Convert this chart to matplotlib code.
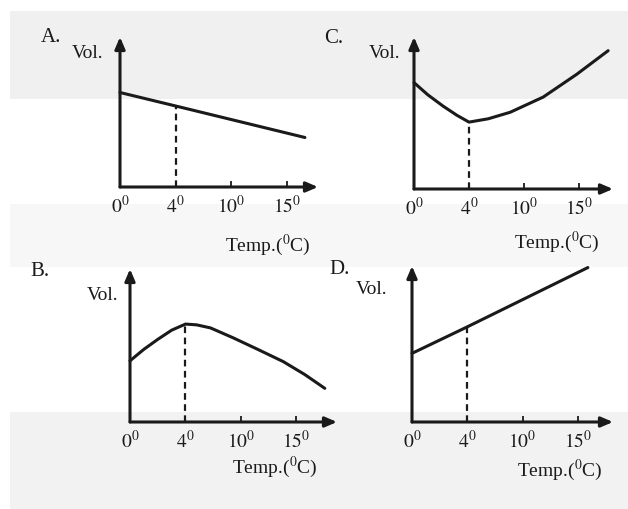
import matplotlib.pyplot as plt

plt.rcParams['font.family'] = 'Liberation Serif'
plt.rcParams['mathtext.fontset'] = 'stix'

# temperature ticks (evenly spaced on the axis, as in the figure)
temps = [0, 4, 10, 15]
tick_labels = [r'$0^{0}$', r'$4^{0}$', r'$10^{0}$', r'$15^{0}$']

# curves: x in tick-index units along the temperature axis, volume in relative units (0-10)
a_x = [0, 1, 3.32]
a_vol = [6.3, 5.4, 3.3]

b_x = [0, 0.25, 0.5, 0.75, 1, 1.2, 1.45, 1.86, 2.3, 2.76, 3.15, 3.51]
b_vol = [4.0, 4.75, 5.4, 6.0, 6.4, 6.35, 6.15, 5.5, 4.75, 3.95, 3.1, 2.2]

c_x = [0, 0.25, 0.53, 0.78, 1, 1.35, 1.75, 2.35, 2.96, 3.53]
c_vol = [7.0, 6.2, 5.45, 4.85, 4.4, 4.62, 5.05, 6.05, 7.55, 9.1]

d_x = [0, 1, 3.18]
d_vol = [4.4, 6.1, 9.9]

W, H = 628, 510
fig = plt.figure(figsize=(W / 100, H / 100), dpi=100)

# faint scan shading in the background
bg = fig.add_axes([0, 0, 1, 1])
bg.set_xlim(0, W)
bg.set_ylim(H, 0)
bg.axis('off')
bg.axhspan(12, 100, xmin=10 / W, color='#f0f0f0', lw=0)
bg.axhspan(205, 268, xmin=10 / W, color='#f7f7f7', lw=0)
bg.axhspan(413, 510, xmin=10 / W, color='#f2f2f2', lw=0)

ink = '#1a1a1a'


def panel(x0, y0, xend, ytop, unit, xs, vols, letter, letter_xy, vol_xy, temp_xy):
    ax = fig.add_axes([x0 / W, 1 - y0 / H, (xend - x0) / W, (y0 - ytop) / H])
    ax.patch.set_alpha(0)
    ax.set_xlim(0, (xend - x0) / unit)
    ax.set_ylim(0, 10)
    for s in ax.spines.values():
        s.set_visible(False)
    ax.set_yticks([])
    ax.set_xticks(range(len(temps)))
    ax.set_xticklabels(tick_labels, fontsize=14, color=ink)
    ax.tick_params(axis='x', direction='in', length=4, width=1.3, color=ink, pad=5)

    arrow = dict(arrowstyle='-|>,head_length=0.7,head_width=0.3', lw=2.2, color=ink,
                 shrinkA=0, shrinkB=0)
    ax.annotate('', xy=((xend - x0) / unit, 0), xytext=(0, 0), arrowprops=arrow,
                annotation_clip=False)
    ax.annotate('', xy=(0, 10), xytext=(0, 0), arrowprops=arrow, annotation_clip=False)

    ax.plot(xs, vols, color=ink, lw=2.2, solid_capstyle='round', solid_joinstyle='round',
            clip_on=False)
    v4 = vols[xs.index(1)]
    ax.plot([1, 1], [0, v4], color=ink, lw=1.6, ls=(0, (3, 2)))

    fig.text(letter_xy[0] / W, 1 - letter_xy[1] / H, letter, fontsize=15, color=ink,
             ha='center', va='center')
    fig.text(vol_xy[0] / W, 1 - vol_xy[1] / H, 'Vol.', fontsize=14, color=ink,
             ha='center', va='center')
    fig.text(temp_xy[0] / W, 1 - temp_xy[1] / H, r'Temp.($^{0}$C)', fontsize=14,
             color=ink, ha='center', va='center')


panel(120, 188, 318, 38, 55.7, a_x, a_vol, 'A.', (51, 38), (88, 53), (268, 245))
panel(414, 190, 613, 38, 55.0, c_x, c_vol, 'C.', (334, 39), (385, 54), (557, 242))
panel(130, 423, 337, 270, 55.5, b_x, b_vol, 'B.', (40, 271), (103, 296), (275, 467))
panel(412, 423, 613, 267, 55.3, d_x, d_vol, 'D.', (340, 270), (372, 290), (560, 470))

fig.savefig('out.png', dpi=100)
